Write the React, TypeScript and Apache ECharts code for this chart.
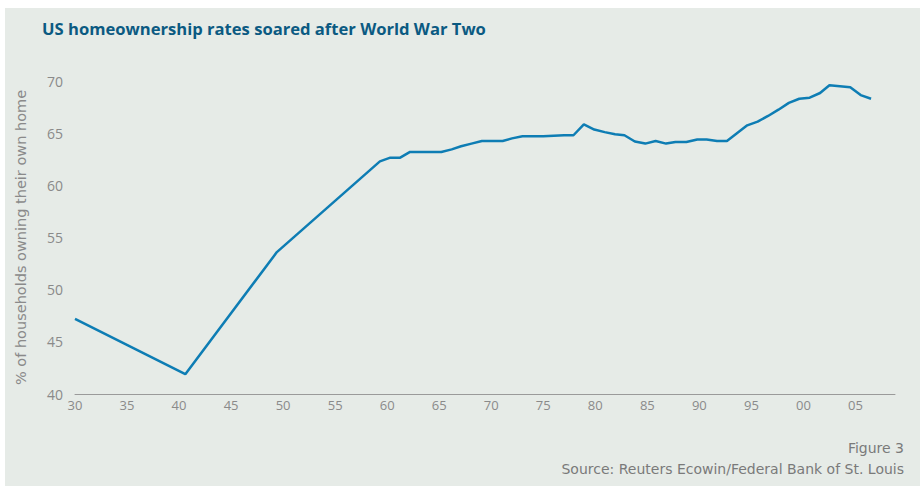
import React, { useEffect, useRef } from "react";
import * as echarts from "echarts";

const years: number[] = [
  1930, 1940.6, 1949.4, 1959.3, 1960.3, 1961.25, 1962.2, 1965.2, 1966.2, 1967.1,
  1968.1, 1969.1, 1971.1, 1972.0, 1973.0, 1975.0, 1977.0, 1977.9, 1978.9, 1979.9,
  1980.9, 1981.9, 1982.8, 1983.8, 1984.8, 1985.8, 1986.8, 1987.7, 1988.75, 1989.8,
  1990.7, 1991.7, 1992.65, 1994.6, 1995.6, 1996.6, 1997.6, 1998.6, 1999.6, 2000.6,
  2001.6, 2002.5, 2004.5, 2005.5, 2006.5,
];
const rates: number[] = [
  47.2, 41.9, 53.6, 62.3, 62.65, 62.65, 63.2, 63.2, 63.45, 63.75,
  64.0, 64.25, 64.25, 64.5, 64.7, 64.7, 64.8, 64.8, 65.85, 65.35,
  65.1, 64.9, 64.8, 64.2, 64.0, 64.25, 64.0, 64.15, 64.15, 64.4,
  64.4, 64.25, 64.25, 65.75, 66.1, 66.65, 67.25, 67.9, 68.3, 68.4,
  68.85, 69.6, 69.4, 68.65, 68.3,
];

const titleText = "US homeownership rates soared after World War Two";
const yAxisName = "% of households owning their own home";
const figureText = "Figure 3";
const sourceText = "Source: Reuters Ecowin/Federal Bank of St. Louis";

const FONT = "'Open Sans', sans-serif";
const WIDE = "'DejaVu Sans', sans-serif";

export default function App() {
  const ref = useRef<HTMLDivElement>(null);
  useEffect(() => {
    if (!ref.current) return;
    const chart = echarts.init(ref.current, undefined, { renderer: "svg" });
    chart.setOption({
      animation: false,
      backgroundColor: "#ffffff",
      graphic: [
        {
          type: "rect",
          z: -10,
          silent: true,
          shape: { x: 5, y: 8, width: 915, height: 478 },
          style: { fill: "#e6ebe7" },
        },
        {
          type: "text",
          left: 42,
          top: 20,
          style: {
            text: titleText,
            fill: "#0b5a82",
            font: `bold 16.6px ${FONT}`,
          },
        },
        {
          type: "text",
          right: 16,
          top: 441,
          style: { text: figureText, fill: "#7a7a7a", font: `14px ${WIDE}` },
        },
        {
          type: "text",
          right: 16,
          top: 462,
          style: { text: sourceText, fill: "#7a7a7a", font: `14px ${WIDE}` },
        },
      ],
      grid: { left: 75, right: 25, top: 81, bottom: 92, containLabel: false },
      xAxis: {
        type: "value",
        min: 1930,
        max: 2008.8,
        interval: 5,
        axisLine: { show: true, lineStyle: { color: "#9a9a9a", width: 1 } },
        axisTick: { show: false },
        splitLine: { show: false },
        axisLabel: {
          color: "#8a8a8a",
          fontSize: 13,
          fontFamily: FONT,
          margin: 4,
          showMaxLabel: false,
          formatter: (v: number) => String(Math.round(v) % 100).padStart(2, "0"),
        },
      },
      yAxis: {
        type: "value",
        min: 40,
        max: 70,
        interval: 5,
        name: yAxisName,
        nameLocation: "middle",
        nameGap: 47,
        nameRotate: 90,
        nameTextStyle: { color: "#8a8a8a", fontSize: 14.5, fontFamily: WIDE },
        axisLine: { show: false },
        axisTick: { show: false },
        splitLine: { show: false },
        axisLabel: { color: "#8a8a8a", fontSize: 14, fontFamily: FONT, margin: 12 },
      },
      series: [
        {
          type: "line",
          data: years.map((y, i) => [y, rates[i]]),
          showSymbol: false,
          symbol: "none",
          lineStyle: { color: "#0e7db4", width: 2.5 },
        },
      ],
    });
    return () => chart.dispose();
  }, []);
  return (
    <div
      ref={ref}
      style={{ position: "fixed", left: 0, top: 0, width: 920, height: 486 }}
    />
  );
}
